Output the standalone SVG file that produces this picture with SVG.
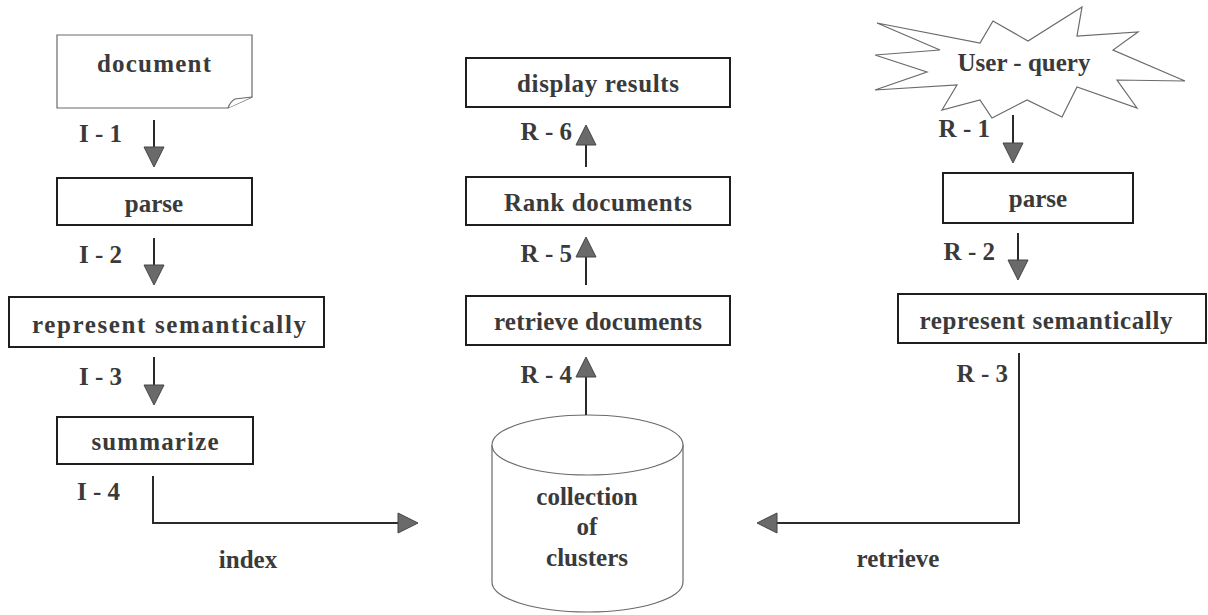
<svg xmlns="http://www.w3.org/2000/svg" width="1208" height="615" viewBox="0 0 1208 615">
  <defs>
    <style>
      text { font-family: 'Liberation Serif', 'DejaVu Serif', serif; font-weight: bold; font-size: 25px; fill: #3a3a3a; }
      .c { text-anchor: middle; }
      .e { text-anchor: end; }
      .box { fill: #fff; stroke: #1e1e1e; stroke-width: 2; }
      .thin { fill: #fff; stroke: #6a6a6a; stroke-width: 1.2; }
      .wire { fill: none; stroke: #2a2a2a; stroke-width: 2; }
      .head { fill: #6a6a6a; stroke: #444; stroke-width: 1; }
    </style>
  </defs>
  <rect width="1208" height="615" fill="#fff"/>

  <!-- indexing column -->
  <g id="document">
    <path class="thin" d="M57,35 H252 V97 L228,108 H57 Z"/>
    <path class="thin" d="M252,97 L235,99 Q230,102 228,108"/>
    <text class="c" x="154" y="72" font-family="Liberation Serif" textLength="114">document</text>
  </g>
  <g id="parse-doc">
    <rect class="box" x="57" y="178" width="195" height="47"/>
    <text class="c" x="154" y="212" font-family="Liberation Serif">parse</text>
  </g>
  <g id="represent-doc">
    <rect class="box" x="9" y="297" width="315" height="50"/>
    <text class="c" x="169" y="333" font-family="Liberation Serif" textLength="274">represent semantically</text>
  </g>
  <g id="summarize">
    <rect class="box" x="57" y="417" width="196" height="47"/>
    <text class="c" x="155" y="450" font-family="Liberation Serif" textLength="127">summarize</text>
  </g>

  <!-- retrieval results column -->
  <g id="display-results">
    <rect class="box" x="466" y="58" width="264" height="49"/>
    <text class="c" x="598" y="92" font-family="Liberation Serif" textLength="162">display results</text>
  </g>
  <g id="rank-documents">
    <rect class="box" x="466" y="177" width="264" height="48"/>
    <text class="c" x="598" y="211" font-family="Liberation Serif" textLength="188">Rank documents</text>
  </g>
  <g id="retrieve-documents">
    <rect class="box" x="466" y="296" width="264" height="49"/>
    <text class="c" x="598" y="330" font-family="Liberation Serif" textLength="208">retrieve documents</text>
  </g>
  <g id="collection">
    <path class="thin" d="M492,445 V582 A95.5,30 0 0 0 683,582 V445"/>
    <ellipse class="thin" cx="587.5" cy="445" rx="95.5" ry="30"/>
    <text class="c" x="587" y="505" font-family="Liberation Serif">collection</text>
    <text class="c" x="587" y="535" font-family="Liberation Serif">of</text>
    <text class="c" x="587" y="566" font-family="Liberation Serif">clusters</text>
  </g>

  <!-- query column -->
  <g id="user-query">
    <polygon class="thin" points="877,23 980,43 993,21 1028,41 1082,7 1077,36 1138,32 1113,50 1185,81 1117,80 1137,108 1077,87 1062,117 1027,100 992,118 980,100 942,110 957,85 875,90 927,72 875,55 940,50"/>
    <text class="c" x="1024" y="71" font-family="Liberation Serif">User - query</text>
  </g>
  <g id="parse-query">
    <rect class="box" x="943" y="173" width="190" height="50"/>
    <text class="c" x="1038" y="207" font-family="Liberation Serif">parse</text>
  </g>
  <g id="represent-query">
    <rect class="box" x="898" y="294" width="308" height="49"/>
    <text class="c" x="1046" y="329" font-family="Liberation Serif" textLength="253">represent semantically</text>
  </g>

  <!-- connectors -->
  <g id="connectors" font-family="Liberation Serif">
    <line class="wire" x1="154" y1="120" x2="154" y2="148"/>
    <polygon class="head" points="144,147 164,147 154,167"/>
    <line class="wire" x1="154" y1="238" x2="154" y2="266"/>
    <polygon class="head" points="144,265 164,265 154,285"/>
    <line class="wire" x1="154" y1="357" x2="154" y2="386"/>
    <polygon class="head" points="144,385 164,385 154,405"/>
    <polyline class="wire" points="153,476 153,523 399,523"/>
    <polygon class="head" points="398,513 398,533 418,523"/>

    <line class="wire" x1="586" y1="167" x2="586" y2="144"/>
    <polygon class="head" points="576,145 596,145 586,125"/>
    <line class="wire" x1="586" y1="285" x2="586" y2="256"/>
    <polygon class="head" points="576,257 596,257 586,237"/>
    <line class="wire" x1="586" y1="415" x2="586" y2="376"/>
    <polygon class="head" points="576,377 596,377 586,357"/>

    <line class="wire" x1="1013" y1="115" x2="1013" y2="144"/>
    <polygon class="head" points="1003,143 1023,143 1013,163"/>
    <line class="wire" x1="1018" y1="233" x2="1018" y2="261"/>
    <polygon class="head" points="1008,260 1028,260 1018,280"/>
    <polyline class="wire" points="1019,353 1019,523 776,523"/>
    <polygon class="head" points="777,513 777,533 757,523"/>

    <text class="e" x="122" y="142">I - 1</text>
    <text class="e" x="122" y="263">I - 2</text>
    <text class="e" x="122" y="385">I - 3</text>
    <text class="e" x="120" y="500">I - 4</text>
    <text class="c" x="248" y="568">index</text>
    <text class="e" x="572" y="140">R - 6</text>
    <text class="e" x="572" y="262">R - 5</text>
    <text class="e" x="572" y="383">R - 4</text>
    <text class="e" x="990" y="137">R - 1</text>
    <text class="e" x="995" y="260">R - 2</text>
    <text class="e" x="1008" y="382">R - 3</text>
    <text class="c" x="898" y="567">retrieve</text>
  </g>
</svg>
